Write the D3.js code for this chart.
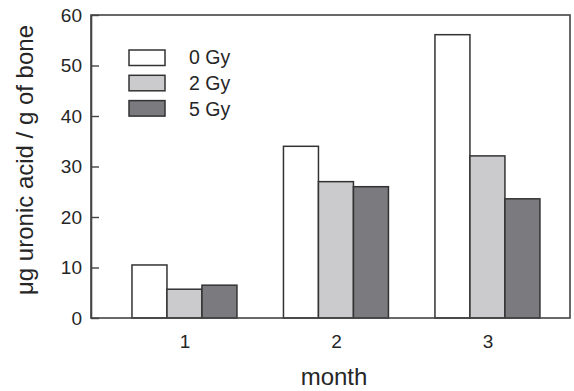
<!DOCTYPE html>
<html><head><meta charset="utf-8">
<script src="https://cdn.jsdelivr.net/npm/d3@7"></script>
<style>body{margin:0;background:#fff}svg{display:block}text{font-family:"Liberation Sans",Arial,sans-serif;fill:#262626}</style>
</head><body>
<script>
const months = [1, 2, 3];
const seriesNames = ["0 Gy", "2 Gy", "5 Gy"];
const dose0 = [10.5, 34.0, 56.1];
const dose2 = [5.7, 27.0, 32.1];
const dose5 = [6.5, 26.0, 23.6];
const yTicks = [0, 10, 20, 30, 40, 50, 60];
const colors = ["#ffffff", "#cbcbcd", "#7b7b7f"];

const W = 574, H = 391;
const mLeft = 91, mRight = 570, mTop = 15, mBottom = 318;
const svg = d3.select("body").append("svg").attr("width", W).attr("height", H);

const x = d3.scaleLinear().domain([0.383, 3.545]).range([mLeft, mRight]);
const y = d3.scaleLinear().domain([0, 60]).range([mBottom, mTop]);
const bw = x(1.231) - x(1);
const series = [dose0, dose2, dose5];

// bars
series.forEach((vals, si) => {
  svg.append("g").selectAll("rect").data(vals).join("rect")
    .attr("x", (d, i) => x(months[i]) + (si - 1.5) * bw)
    .attr("y", d => y(d))
    .attr("width", bw)
    .attr("height", d => y(0) - y(d))
    .attr("fill", colors[si])
    .attr("stroke", "#333")
    .attr("stroke-width", 1.5);
});

// frame
svg.append("rect").attr("x", mLeft).attr("y", mTop).attr("width", mRight - mLeft).attr("height", mBottom - mTop)
  .attr("fill", "none").attr("stroke", "#444").attr("stroke-width", 1.6);

const tickFont = 19;
// y axis
const ya = svg.append("g").attr("transform", `translate(${mLeft},0)`)
  .call(d3.axisLeft(y).tickValues(yTicks).tickSizeInner(-8).tickSizeOuter(0).tickPadding(9));
ya.select(".domain").attr("stroke", "#444").attr("stroke-width", 1.6);
ya.selectAll(".tick line").attr("stroke", "#444").attr("stroke-width", 1.4);
ya.selectAll(".tick text").attr("font-size", tickFont).attr("fill", "#262626").attr("font-family", "Liberation Sans, Arial, sans-serif");

// x axis
const xa = svg.append("g").attr("transform", `translate(0,${mBottom})`)
  .call(d3.axisBottom(x).tickValues(months).tickSize(0).tickPadding(17).tickFormat(d3.format("d")));
xa.select(".domain").remove();
xa.selectAll(".tick text").attr("font-size", tickFont).attr("fill", "#262626").attr("font-family", "Liberation Sans, Arial, sans-serif");

// axis titles
svg.append("text").attr("x", 334).attr("y", 385)
  .attr("text-anchor", "middle").attr("font-size", 24).text("month");
svg.append("text").attr("transform", `translate(33,160) rotate(-90)`)
  .attr("text-anchor", "middle").attr("font-size", 24).text("μg uronic acid / g of bone");

// legend
const lg = svg.append("g");
seriesNames.forEach((n, i) => {
  lg.append("rect").attr("x", 129).attr("y", 50 + i * 25.3).attr("width", 36).attr("height", 15.5)
    .attr("fill", colors[i]).attr("stroke", "#333").attr("stroke-width", 1.5);
  lg.append("text").attr("x", 189).attr("y", 63.5 + i * 26).attr("font-size", 19.5).text(n);
});
</script>
</body></html>
